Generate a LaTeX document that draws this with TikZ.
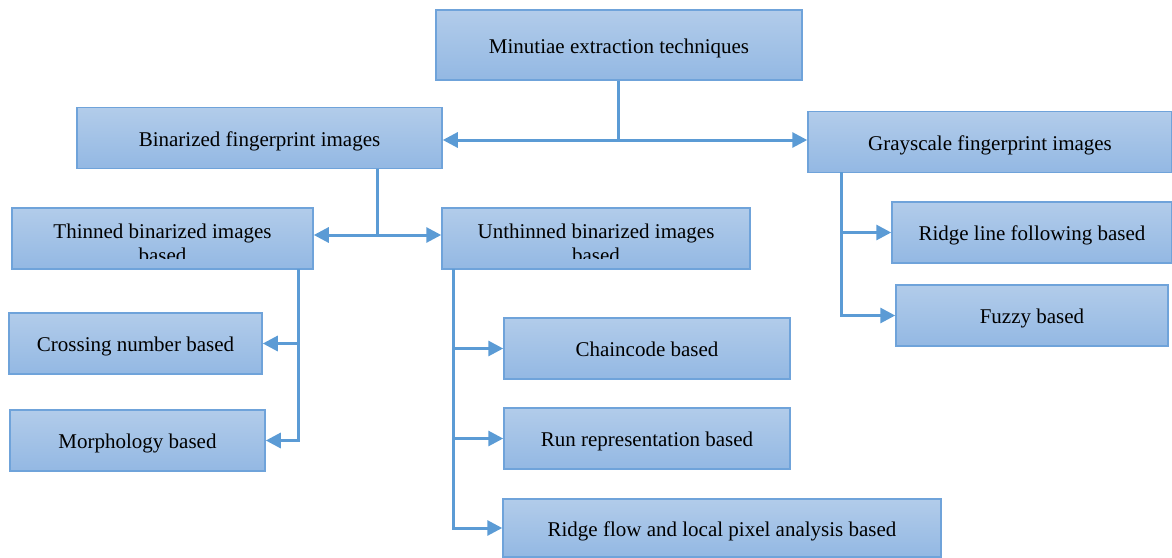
\documentclass[tikz,border=0pt]{standalone}
\usepackage{fontspec}
\setmainfont{Liberation Serif}
\usetikzlibrary{arrows.meta}
\definecolor{linkblue}{HTML}{5B9BD5}
\definecolor{boxtop}{HTML}{B2CCEA}
\definecolor{boxbot}{HTML}{93B8E3}
\definecolor{boxline}{HTML}{6FA3DA}
\begin{document}
\begin{tikzpicture}[x=1pt,y=-1pt]
    \tikzstyle{box}=[draw=boxline,line width=1.5pt,shape=rectangle,top color=boxtop,bottom color=boxbot,
      minimum height=61pt,inner sep=0pt,text height=16pt,text depth=0pt,font=\fontsize{21}{24}\selectfont];
    \tikzstyle{link}=[draw=linkblue,line width=3pt];
    \tikzstyle{arr}=[link,-{Triangle[length=15pt,width=15pt]}];
    \tikzstyle{cut}=[box,path picture={
      \clip ([yshift=11pt]path picture bounding box.south west) rectangle (path picture bounding box.north east);
      \node[anchor=base,inner sep=0pt,font=\fontsize{21}{24}\selectfont] at ([yshift=-30pt]path picture bounding box.north) {#1};
      \node[anchor=base,inner sep=0pt,font=\fontsize{21}{24}\selectfont] at ([yshift=-54pt]path picture bounding box.north) {based};}];
    \useasboundingbox (0,0) rectangle (1172,557);

    % top level
    \node at (619,45)    (mint)  [box,minimum width=366pt,minimum height=70pt] {Minutiae extraction techniques};
    \node at (259.5,138) (bin)   [box,minimum width=365pt] {Binarized fingerprint images};
    \node at (990,142)   (gray)  [box,minimum width=364pt] {Grayscale fingerprint images};

    % binarized branch
    \node at (162.5,238.5) (thin)   [cut={Thinned binarized images},minimum width=301pt] {};
    \node at (596,238.5)   (unthin) [cut={Unthinned binarized images},minimum width=308pt] {};
    \node at (135.5,343.5) (cross)  [box,minimum width=253pt] {Crossing number based};
    \node at (137.5,440.5) (morph)  [box,minimum width=255pt] {Morphology based};
    \node at (647,348.5)   (chain)  [box,minimum width=286pt] {Chaincode based};
    \node at (647,438.5)   (run)    [box,minimum width=286pt] {Run representation based};
    \node at (722,528)     (flow)   [box,minimum width=438pt,minimum height=58pt] {Ridge flow and local pixel analysis based};

    % grayscale branch
    \node at (1032,232.5) (ridge) [box,minimum width=280pt] {Ridge line following based};
    \node at (1032,315.5) (fuzzy) [box,minimum width=272pt] {Fuzzy based};

    \coordinate (j1) at (618,140);
    \coordinate (j2) at (377,235);
    \draw[link] (mint.south -| j1) -- (j1);
    \draw[arr] (j1) -- (bin.east |- j1);
    \draw[arr] (j1) -- (gray.west |- j1);
    \draw[link] (bin.south -| j2) -- (j2);
    \draw[arr] (j2) -- (thin.east |- j2);
    \draw[arr] (j2) -- (unthin.west |- j2);

    \coordinate (k1) at (298,269);
    \draw[arr] (k1) |- (cross.east);
    \draw[arr] (k1) |- (morph.east);

    \coordinate (k2) at (453,269);
    \draw[arr] (k2) |- (chain.west);
    \draw[arr] (k2) |- (run.west);
    \draw[arr] (k2) |- (flow.west);

    \coordinate (k3) at (841,172);
    \draw[arr] (k3) |- (ridge.west);
    \draw[arr] (k3) |- (fuzzy.west);
\end{tikzpicture}
\end{document}
